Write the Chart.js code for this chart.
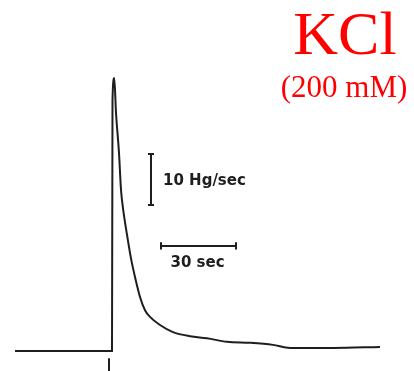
<!DOCTYPE html>
<html>
<head>
<meta charset="utf-8">
<style>
  html, body { margin: 0; padding: 0; background: #fff; }
  canvas { display: block; }
</style>
<script src="https://cdn.jsdelivr.net/npm/chart.js@4/dist/chart.umd.min.js"></script>
</head>
<body>
<canvas id="trace" width="414" height="371"></canvas>
<script>
// contraction trace: time (s, 0 = KCl added) and tension
const traceTime  = [-38.8, -20, 0, 0.2, 0.9, 1.6, 2.8, 3.6, 4.5, 5.9, 7.5, 9.2, 11.2, 13.2, 15.2, 19.2, 24.4, 31.2, 38, 46, 55.2, 64.4, 71.2, 88.4, 107.2];
const traceForce = [0, 0, 0, 49.2, 53.5, 46.7, 38.8, 31.6, 27.6, 23.1, 18.4, 14.5, 10.6, 8.0, 6.7, 5.1, 3.7, 2.9, 2.5, 1.8, 1.6, 1.2, 0.6, 0.6, 0.8];

// calibration bars
const forceBar = 10;   // tension units
const timeBar = 30;    // seconds
const forceUnit = 'Hg/sec';
const timeUnit = 'sec';

// where the calibration bars sit
const forceBarAt = { t: 15.6, f: 28.6 };
const timeBarAt = { t: 19.6, f: 20.6 };
const stimAt = -1.2;

const ink = '#1e1e1e';
const serif = '"Liberation Serif", "Times New Roman", serif';
const sans = '"DejaVu Sans", sans-serif';

function seg(points) {
  return {
    data: points,
    borderColor: ink,
    borderWidth: 2,
    pointRadius: 0,
    showLine: true,
    tension: 0
  };
}

const forceBarPts = [
  { x: forceBarAt.t - 1.2, y: forceBarAt.f + forceBar },
  { x: forceBarAt.t + 1.2, y: forceBarAt.f + forceBar },
  { x: forceBarAt.t, y: forceBarAt.f + forceBar },
  { x: forceBarAt.t, y: forceBarAt.f },
  { x: forceBarAt.t - 1.2, y: forceBarAt.f },
  { x: forceBarAt.t + 1.2, y: forceBarAt.f }
];
const timeBarPts = [
  { x: timeBarAt.t, y: timeBarAt.f + 0.7 },
  { x: timeBarAt.t, y: timeBarAt.f - 0.7 },
  { x: timeBarAt.t, y: timeBarAt.f },
  { x: timeBarAt.t + timeBar, y: timeBarAt.f },
  { x: timeBarAt.t + timeBar, y: timeBarAt.f + 0.7 },
  { x: timeBarAt.t + timeBar, y: timeBarAt.f - 0.7 }
];

const labels = {
  id: 'labels',
  afterDraw(chart) {
    const { ctx, scales: { x, y } } = chart;
    ctx.save();
    ctx.fillStyle = ink;
    ctx.textBaseline = 'middle';
    ctx.font = 'bold 15px ' + sans;
    ctx.textAlign = 'left';
    ctx.fillText(forceBar + ' ' + forceUnit, x.getPixelForValue(forceBarAt.t) + 12,
      y.getPixelForValue(forceBarAt.f + forceBar / 2) + 2);
    ctx.textAlign = 'center';
    ctx.fillText(timeBar + ' ' + timeUnit, x.getPixelForValue(timeBarAt.t + timeBar / 2) - 1,
      y.getPixelForValue(timeBarAt.f) + 17);

    ctx.fillStyle = '#ff0000';
    ctx.textBaseline = 'alphabetic';
    ctx.font = '62px ' + serif;
    ctx.fillText('KCl', 345, 54);
    ctx.font = '31px ' + serif;
    ctx.fillText('(200 mM)', 344, 97);
    ctx.restore();
  }
};

// make sure the fonts are ready before the first draw
Promise.all([
  document.fonts.load('62px ' + serif),
  document.fonts.load('bold 15px ' + sans)
]).catch(() => {}).then(() => {
  new Chart(document.getElementById('trace'), {
    type: 'scatter',
    data: {
      datasets: [
        {
          data: traceTime.map((t, i) => ({ x: t, y: traceForce[i] })),
          borderColor: ink,
          borderWidth: 2,
          pointRadius: 0,
          showLine: true,
          cubicInterpolationMode: 'monotone'
        },
        seg([{ x: stimAt, y: -1.4 }, { x: stimAt, y: -4 }]),
        seg(forceBarPts),
        seg(timeBarPts)
      ]
    },
    options: {
      responsive: false,
      animation: false,
      layout: { padding: 0 },
      plugins: { legend: { display: false }, tooltip: { enabled: false } },
      scales: {
        x: { type: 'linear', min: -44.8, max: 120.8, display: false },
        y: { type: 'linear', min: -3.92, max: 68.8, display: false }
      }
    },
    plugins: [labels]
  });
});
</script>
</body>
</html>
